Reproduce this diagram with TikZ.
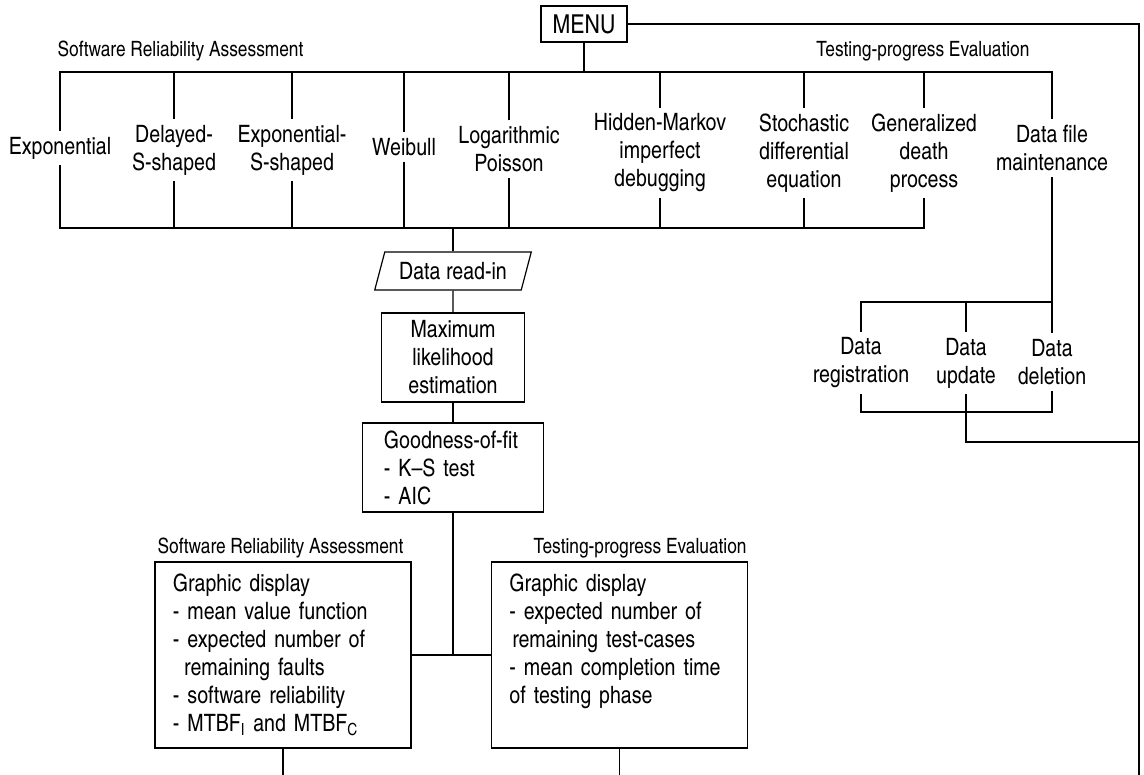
\documentclass[tikz,border=0pt]{standalone}
\usepackage{fontspec}
\setmainfont{texgyreheroscn-regular.otf}
\usepackage{tikz}
\usetikzlibrary{shapes.geometric}

\begin{document}
\begin{tikzpicture}[x=0.025cm, y=-0.025cm, line width=0.85pt,
  every node/.style={font=\fontsize{17}{19.9}\selectfont},
  model/.style={align=center, inner xsep=2pt, inner ysep=4pt},
  menubox/.style={draw, inner sep=0pt, minimum width=2.15cm, minimum height=0.9cm,
    font=\fontsize{18.5}{20}\selectfont},
  procbox/.style={draw, inner sep=0pt, minimum height=2.225cm},
  iobox/.style={draw, trapezium, trapezium left angle=75, trapezium right angle=105,
    trapezium stretches body, minimum height=0.95cm, inner xsep=0.36cm, inner ysep=0.25cm},
  dispbox/.style={draw, align=left, text width=5.5cm, inner xsep=0.45cm, inner ysep=0pt,
    text height=0.75cm, text depth=3.9cm},
  grouplabel/.style={font=\fontsize{15}{18}\selectfont, inner sep=0pt}]

\path[use as bounding box, fill=white] (0,0) rectangle (1144,775);

% buses and free ends
\coordinate (topbus) at (0,72);
\coordinate (botbus) at (0,228);
\coordinate (subtop) at (0,302);
\coordinate (subbot) at (0,412);
\coordinate (pgbot) at (0,775);
\coordinate (retline) at (1139,0);
\coordinate (upret) at (1139,442);

\node[menubox] (menu) at (584,24) {MENU};

\node[grouplabel, anchor=base west] (srahead) at (57,57) {Software Reliability Assessment};
\node[grouplabel, anchor=base east] (tpehead) at (1030,57) {Testing-progress Evaluation};

% models
\node[model] (exp) at (60,148) {Exponential};
\node[model] (dsh) at (174,150) {Delayed-\\S-shaped};
\node[model] (esh) at (292,150) {Exponential-\\S-shaped};
\node[model] (weib) at (404,147) {Weibull};
\node[model] (logp) at (509,149) {Logarithmic\\Poisson};
\node[model] (hmm) at (660,153) {Hidden-Markov\\imperfect\\debugging};
\node[model] (sde) at (804,153) {Stochastic\\differential\\equation};
\node[model] (gdp) at (924,153) {Generalized\\death\\process};
\node[model] (dfm) at (1052,148) {Data file\\maintenance};

% estimation chain
\node[iobox] (readin) at (453,271) {Data read-in};
\node[procbox, minimum width=3.575cm, align=center] (mle) at (453,357.5) {Maximum\\likelihood\\estimation};
\node[procbox, align=left, text width=3.45cm, inner xsep=0.54cm] (gof) at (453,467.5)
  {Goodness-of-fit\\- K--S test\\- AIC};

\node[grouplabel, anchor=base west] (sralabel) at (157,553) {Software Reliability Assessment};
\node[grouplabel, anchor=base west] (tpelabel) at (533,553) {Testing-progress Evaluation};

\node[dispbox] (lbox) at (283,655) {Graphic display\\- mean value function\\- expected number of\\
  \hspace*{8pt}remaining faults\\- software reliability\\- MTBF\textsubscript{I} and MTBF\textsubscript{C}};
\node[dispbox] (rbox) at (619.5,655) {Graphic display\\- expected number of\\
  \hspace*{2pt}remaining test-cases\\- mean completion time\\of testing phase};

% data file maintenance
\node[model] (reg) at (861,363) {Data\\registration};
\node[model] (upd) at (966,363) {Data\\update};
\node[model] (del) at (1052,362) {Data\\deletion};

% menu tree
\draw (menu.south) -- (menu.south |- topbus);
\draw (exp.north) |- (dfm.north |- topbus) -- (dfm.north);
\foreach \m in {dsh,esh,weib,logp,hmm,sde,gdp}
  \draw (\m.north) -- (\m.north |- topbus);
\draw (exp.south) |- (gdp.south |- botbus) -- (gdp.south);
\foreach \m in {dsh,esh,weib,logp,hmm,sde}
  \draw (\m.south) -- (\m.south |- botbus);

\draw (readin.north) -- (readin.north |- botbus);
\draw (readin) -- (mle);
\draw (mle) -- (gof);
\draw (gof.south) -- (gof.south |- lbox.east);
\draw (lbox) -- (rbox);
\draw (lbox.south) -- (lbox.south |- pgbot);
\draw (rbox.south) -- (rbox.south |- pgbot);

\draw (dfm.south) -- (del.north);
\draw (reg.north) |- (del.north |- subtop);
\draw (upd.north) -- (upd.north |- subtop);
\draw (reg.south) |- (del.south |- subbot) -- (del.south);
\draw (upd.south) |- (upret);

% back to the menu
\draw (menu.east) -| (retline |- pgbot);
\end{tikzpicture}
\end{document}
